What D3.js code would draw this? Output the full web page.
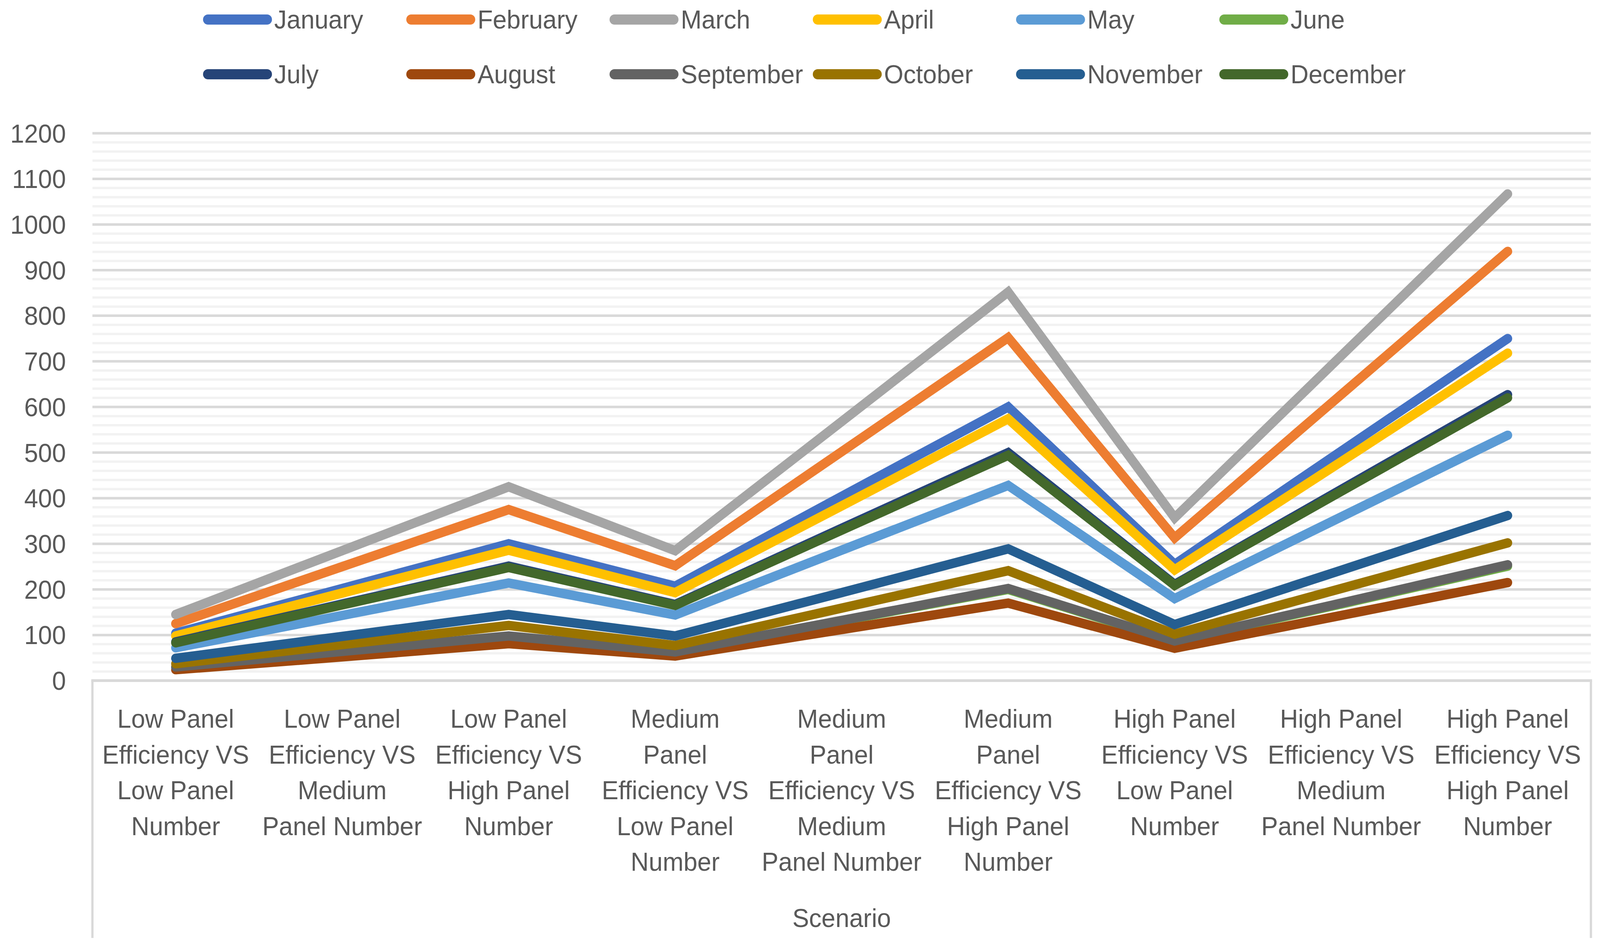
<!DOCTYPE html>
<html>
<head>
<meta charset="utf-8">
<script src="https://cdn.jsdelivr.net/npm/d3@7"></script>
<style>
  html, body { margin: 0; padding: 0; background: #ffffff; width: 100%; height: 100%; overflow: hidden; }
  svg { display: block; width: 100vw; height: 100vh; }
</style>
</head>
<body>
<svg id="chart"></svg>
<script>
(function(d3) {
  "use strict";

  /***** Données *****/

  var scenarios = [
    ["Low Panel", "Efficiency VS", "Low Panel", "Number"],
    ["Low Panel", "Efficiency VS", "Medium", "Panel Number"],
    ["Low Panel", "Efficiency VS", "High Panel", "Number"],
    ["Medium", "Panel", "Efficiency VS", "Low Panel", "Number"],
    ["Medium", "Panel", "Efficiency VS", "Medium", "Panel Number"],
    ["Medium", "Panel", "Efficiency VS", "High Panel", "Number"],
    ["High Panel", "Efficiency VS", "Low Panel", "Number"],
    ["High Panel", "Efficiency VS", "Medium", "Panel Number"],
    ["High Panel", "Efficiency VS", "High Panel", "Number"]
  ];

  var months = ["January", "February", "March", "April", "May", "June",
    "July", "August", "September", "October", "November", "December"];

  var january   = [104, 202, 300, 207, 404, 600, 255, 503, 750];
  var february  = [125, 250, 375, 252, 502, 752, 313, 627, 941];
  var march     = [145, 285, 425, 285, 568, 852, 357, 712, 1067];
  var april     = [98, 192, 286, 193, 383, 574, 243, 480, 718];
  var may       = [72, 143, 214, 144, 286, 428, 180, 359, 538];
  var june      = [29, 63, 97, 62, 131, 200, 86, 168, 251];
  var july      = [85, 168, 251, 167, 334, 500, 211, 419, 627];
  var august    = [24, 52, 81, 54, 112, 170, 71, 143, 215];
  var september = [30, 64, 98, 63, 132, 202, 87, 170, 254];
  var october   = [37, 79, 121, 77, 159, 241, 102, 202, 302];
  var november  = [49, 97, 145, 98, 193, 289, 123, 242, 362];
  var december  = [83, 166, 248, 165, 330, 494, 209, 415, 620];

  var series = [january, february, march, april, may, june,
    july, august, september, october, november, december];

  var colors = ["#4472C4", "#ED7D31", "#A5A5A5", "#FFC000", "#5B9BD5", "#70AD47",
    "#264478", "#9E480E", "#636363", "#997300", "#255E91", "#43682B"];

  var axisTitle = "Scenario";

  /***** Configuration *****/

  var width = 4224;
  var height = 2418;
  var plot = { left: 244, right: 4200, top: 341, bottom: 1741.6 };
  var fontFamily = "'Liberation Sans', Arial, sans-serif";
  var fontSize = 66;
  var textColor = "#595959";
  var lineWidth = 24;

  // viewBox : le dessin suit la taille réelle de la fenêtre
  var svg = d3.select("#chart")
    .attr("viewBox", "0 0 " + width + " " + height)
    .attr("preserveAspectRatio", "none")
    .style("font-family", fontFamily);

  svg.append("rect")
    .attr("width", width)
    .attr("height", height)
    .attr("fill", "#ffffff");

  /***** Échelles *****/

  var x = d3.scaleBand()
    .domain(d3.range(scenarios.length))
    .range([plot.left, plot.right])
    .padding(0);

  var y = d3.scaleLinear()
    .domain([0, 1200])
    .range([plot.bottom, plot.top]);

  var cx = function(i) { return x(i) + x.bandwidth() / 2; };

  /***** Grille *****/

  var grid = svg.append("g").attr("class", "grid");

  grid.selectAll("line.minor")
    .data(y.ticks(60).filter(function(d) { return d % 100 !== 0; }))
    .enter().append("line")
    .attr("class", "minor")
    .attr("x1", plot.left).attr("x2", plot.right)
    .attr("y1", function(d) { return y(d); })
    .attr("y2", function(d) { return y(d); })
    .attr("stroke", "#f2f2f2")
    .attr("stroke-width", 6);

  grid.selectAll("line.major")
    .data(y.ticks(12).filter(function(d) { return d > 0; }))
    .enter().append("line")
    .attr("class", "major")
    .attr("x1", plot.left).attr("x2", plot.right)
    .attr("y1", function(d) { return y(d); })
    .attr("y2", function(d) { return y(d); })
    .attr("stroke", "#d9d9d9")
    .attr("stroke-width", 6.5);

  // Axe Y
  var yAxis = d3.axisLeft(y).ticks(12).tickSize(0).tickPadding(0).tickFormat(d3.format("d"));
  var yG = svg.append("g")
    .attr("transform", "translate(174,0)")
    .call(yAxis);
  yG.select(".domain").remove();
  yG.selectAll("text")
    .attr("x", 0)
    .attr("dy", "0.35em")
    .style("font-family", fontFamily)
    .style("font-size", fontSize + "px")
    .attr("fill", textColor);

  // Cadre de l'axe des catégories
  var frame = svg.append("g").attr("class", "frame")
    .attr("stroke", "#d9d9d9")
    .attr("fill", "none");
  frame.append("line")
    .attr("x1", plot.left - 3).attr("x2", plot.right + 3)
    .attr("y1", y(0)).attr("y2", y(0))
    .attr("stroke-width", 7);
  frame.append("line")
    .attr("x1", plot.left).attr("x2", plot.left)
    .attr("y1", y(0)).attr("y2", 2400)
    .attr("stroke-width", 6);
  frame.append("line")
    .attr("x1", plot.right).attr("x2", plot.right)
    .attr("y1", y(0)).attr("y2", 2400)
    .attr("stroke-width", 6);

  // Étiquettes des catégories
  var labels = svg.append("g").attr("class", "x-labels");
  scenarios.forEach(function(lines, i) {
    var t = labels.append("text")
      .attr("text-anchor", "middle")
      .attr("fill", textColor)
      .style("font-size", fontSize + "px");
    lines.forEach(function(l, k) {
      t.append("tspan")
        .attr("x", cx(i))
        .attr("y", 1862 + k * 91.6)
        .text(l);
    });
  });

  svg.append("text")
    .attr("x", (plot.left + plot.right) / 2)
    .attr("y", 2372)
    .attr("text-anchor", "middle")
    .attr("fill", textColor)
    .style("font-size", fontSize + "px")
    .text(axisTitle);

  /***** Courbes *****/

  var line = d3.line()
    .x(function(d, i) { return cx(i); })
    .y(function(d) { return y(d); });

  svg.append("g").attr("class", "series")
    .selectAll("path")
    .data(series)
    .enter().append("path")
    .attr("d", line)
    .attr("fill", "none")
    .attr("stroke", function(d, i) { return colors[i]; })
    .attr("stroke-width", lineWidth)
    .attr("stroke-linecap", "round")
    .attr("stroke-linejoin", "miter")
    .attr("stroke-miterlimit", 4);

  /***** Légende *****/

  var legend = svg.append("g").attr("class", "legend");
  months.forEach(function(m, i) {
    var col = i % 6;
    var row = Math.floor(i / 6);
    var lx = 536 + col * 536.6;
    var ly = 50 + row * 140;
    legend.append("line")
      .attr("x1", lx + 13).attr("x2", lx + 169)
      .attr("y1", ly).attr("y2", ly)
      .attr("stroke", colors[i])
      .attr("stroke-width", 26)
      .attr("stroke-linecap", "round");
    legend.append("text")
      .attr("x", lx + 188)
      .attr("y", ly)
      .attr("dy", "0.35em")
      .attr("fill", textColor)
      .style("font-size", fontSize + "px")
      .text(m);
  });

})(d3);
</script>
</body>
</html>
